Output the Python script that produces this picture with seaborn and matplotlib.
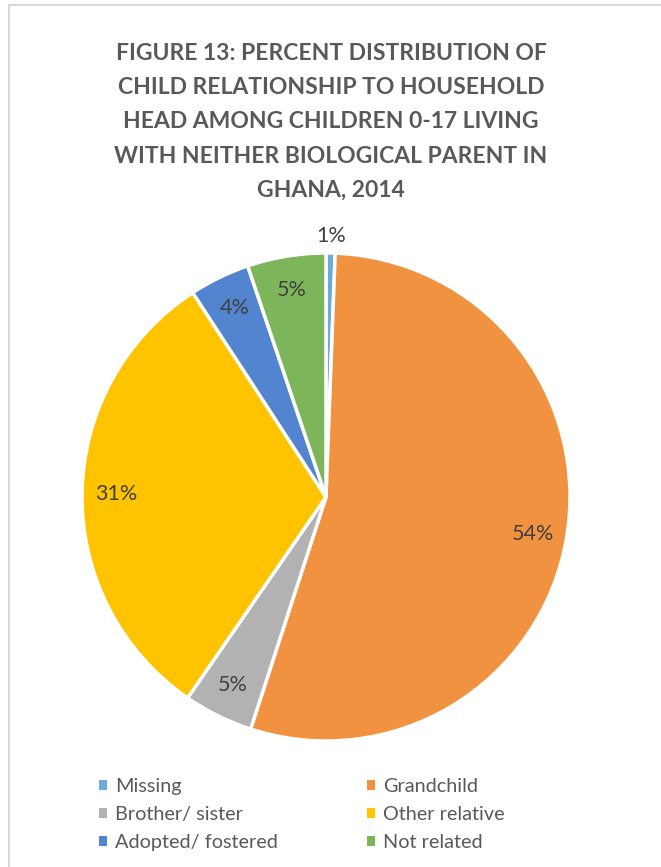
import matplotlib
matplotlib.use("Agg")
import matplotlib.pyplot as plt
from matplotlib.patches import Rectangle, Patch
import numpy as np
import seaborn as sns

# Relationship to household head, percent of children 0-17 living with neither parent
categories = ["Missing", "Grandchild", "Brother/ sister", "Other relative",
              "Adopted/ fostered", "Not related"]
percents = [0.6, 54.4, 4.6, 31.2, 4.0, 5.2]
colors = ["#6CA9DC", "#F19240", "#B2B2B2", "#FFC300", "#5284CF", "#7DB65A"]

title_lines = ["FIGURE 13: PERCENT DISTRIBUTION OF",
               "CHILD RELATIONSHIP TO HOUSEHOLD",
               "HEAD AMONG CHILDREN 0-17 LIVING",
               "WITH NEITHER BIOLOGICAL PARENT IN",
               "GHANA, 2014"]

sns.set_theme(style="white")
plt.rcParams["font.family"] = ["Lato", "DejaVu Sans"]

W, H = 661, 867
fig = plt.figure(figsize=(W / 100, H / 100), dpi=100)
fig.patch.set_facecolor("white")

# chart frame
fig.add_artist(Rectangle((8.5 / W, -0.02), 1.1, 1 - 4.5 / H + 0.02,
                         transform=fig.transFigure, fill=False,
                         edgecolor="#D9D9D9", linewidth=1.5))

fig.text(331 / W, 1 - 122 / H, "\n".join(title_lines), ha="center", va="center",
         fontsize=16.5, fontweight="bold", color="#595959", linespacing=1.78)

cx, cy, r = 326, 497, 244
ax = fig.add_axes([(cx - r) / W, 1 - (cy + r) / H, 2 * r / W, 2 * r / H])
wedges, _ = ax.pie(percents, colors=colors, startangle=90, counterclock=False,
                   radius=1, wedgeprops=dict(edgecolor="white", linewidth=2.5))
ax.set_aspect("equal")
ax.set_xlim(-1, 1)
ax.set_ylim(-1, 1)
ax.axis("off")

cum = np.cumsum([0] + percents)
for i, p in enumerate(percents):
    mid = 90 - (cum[i] + p / 2) * 3.6
    rr = 1.07 if p < 2 else 0.86
    x, y = rr * np.cos(np.radians(mid)), rr * np.sin(np.radians(mid))
    ax.text(x, y, f"{round(p):.0f}%", ha="center", va="center",
            fontsize=15.5, color="#404040", clip_on=False)

order = [0, 2, 4, 1, 3, 5]
handles = [Patch(facecolor=colors[i], edgecolor="none") for i in order]
labels = [categories[i] for i in order]
fig.legend(handles, labels, ncol=2, loc="upper left",
           bbox_to_anchor=(99 / W, 1 - 778 / H), frameon=False,
           fontsize=14.3, labelcolor="#595959", handlelength=0.4,
           handleheight=0.4, handletextpad=0.4, columnspacing=4.5,
           labelspacing=0.55, borderaxespad=0, borderpad=0)

fig.savefig("out.png", dpi=100, facecolor="white")
